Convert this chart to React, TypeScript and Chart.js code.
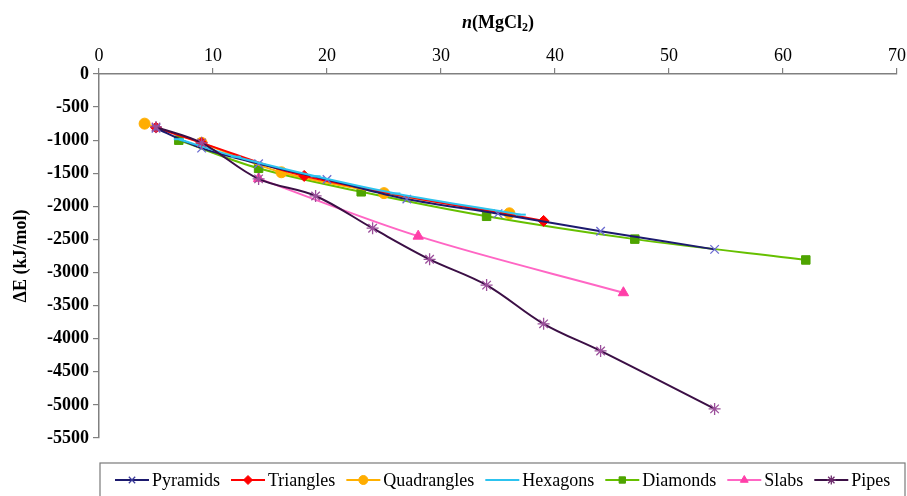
import React, { useEffect, useRef } from "react";
import { Chart, registerables } from "chart.js";
import { drawPoint } from "chart.js/helpers";

Chart.register(...registerables);

const xTicks = [0, 10, 20, 30, 40, 50, 60, 70];
const yTicks = [0, -500, -1000, -1500, -2000, -2500, -3000, -3500, -4000, -4500, -5000, -5500];

const seriesNames = ["Pyramids", "Triangles", "Quadrangles", "Hexagons", "Diamonds", "Slabs", "Pipes"];

const pyramidsX = [5, 9, 14, 20, 27, 35, 44, 54];
const pyramidsY = [-820, -1120, -1355, -1595, -1890, -2110, -2375, -2650];

const trianglesX = [5, 9, 18, 39];
const trianglesY = [-810, -1040, -1540, -2220];

const quadranglesX = [4, 9, 16, 25, 36];
const quadranglesY = [-750, -1040, -1485, -1800, -2105];

const hexagonsX = [7, 12, 19, 26, 37];
const hexagonsY = [-985, -1250, -1545, -1805, -2125];

const diamondsX = [7, 14, 23, 34, 47, 62];
const diamondsY = [-1000, -1425, -1780, -2150, -2495, -2810];

const slabsX = [14, 28, 46];
const slabsY = [-1580, -2450, -3305];

const pipesX = [5, 9, 14, 19, 24, 29, 34, 39, 44, 54];
const pipesY = [-800, -1040, -1585, -1843, -2330, -2800, -3190, -3775, -4185, -5060];

const SERIF = "'Liberation Serif', 'DejaVu Serif', serif";

type Style = {
  line: string;
  fill: string;
  border: string;
  pointStyle: any;
  radius: number;
  pbw: number;
  order: number;
};

const styles: Style[] = [
  { line: "#1c1a6e", fill: "rgba(0,0,0,0)", border: "#6b6bd0", pointStyle: "crossRot", radius: 6, pbw: 1.3, order: 2 },
  { line: "#ff0000", fill: "#ff0000", border: "#ff0000", pointStyle: "rectRot", radius: 5.5, pbw: 1, order: 3 },
  { line: "#ffb000", fill: "#ffad00", border: "#ffad00", pointStyle: "circle", radius: 5.5, pbw: 1, order: 4 },
  { line: "#2cc3ef", fill: "#2cc3ef", border: "#2cc3ef", pointStyle: "line", radius: 5, pbw: 2, order: 1 },
  { line: "#66c000", fill: "#4ea400", border: "#4ea400", pointStyle: "rect", radius: 6, pbw: 1, order: 5 },
  { line: "#ff66c4", fill: "#ff3fa8", border: "#ff3fa8", pointStyle: "triangle", radius: 6, pbw: 1, order: 6 },
  { line: "#3b0f45", fill: "rgba(0,0,0,0)", border: "#9b4f9b", pointStyle: "star", radius: 6, pbw: 1.3, order: 0 },
];

const xs = [pyramidsX, trianglesX, quadranglesX, hexagonsX, diamondsX, slabsX, pipesX];
const ys = [pyramidsY, trianglesY, quadranglesY, hexagonsY, diamondsY, slabsY, pipesY];

const titlePlugin = {
  id: "customTexts",
  afterDraw(chart: any) {
    const ctx = chart.ctx as CanvasRenderingContext2D;
    const area = chart.chartArea;
    ctx.save();
    // X axis title: n(MgCl2)
    const y = 23;
    const parts = [
      { t: "n", f: `italic bold 18px ${SERIF}`, dy: 0 },
      { t: "(MgCl", f: `bold 18px ${SERIF}`, dy: 0 },
      { t: "2", f: `bold 12px ${SERIF}`, dy: 5 },
      { t: ")", f: `bold 18px ${SERIF}`, dy: 0 },
    ];
    let total = 0;
    for (const p of parts) {
      ctx.font = p.f;
      total += ctx.measureText(p.t).width;
    }
    let x = (area.left + area.right) / 2 - total / 2;
    ctx.fillStyle = "#000";
    ctx.textBaseline = "middle";
    ctx.textAlign = "left";
    for (const p of parts) {
      ctx.font = p.f;
      ctx.fillText(p.t, x, y + p.dy);
      x += ctx.measureText(p.t).width;
    }

    // Legend
    const boxL = 100, boxT = 463, boxR = 905, boxB = 500;
    ctx.strokeStyle = "#7a7a7a";
    ctx.lineWidth = 1.2;
    ctx.strokeRect(boxL, boxT, boxR - boxL, boxB - boxT);
    ctx.font = `18px ${SERIF}`;
    const ly = 480;
    let lx = 115;
    for (let i = 0; i < seriesNames.length; i++) {
      const s = styles[i];
      const lineLen = 34;
      ctx.strokeStyle = s.line;
      ctx.lineWidth = 2;
      ctx.beginPath();
      ctx.moveTo(lx, ly);
      ctx.lineTo(lx + lineLen, ly);
      ctx.stroke();
      ctx.fillStyle = s.fill;
      ctx.strokeStyle = i === 0 ? "#3b3b9a" : i === 6 ? "#6b2a6b" : s.border;
      ctx.lineWidth = s.pbw;
      if (s.pointStyle !== "line") {
        drawPoint(ctx, { pointStyle: s.pointStyle, rotation: 0, radius: 4.5, borderWidth: s.pbw } as any, lx + lineLen / 2, ly);
      }
      ctx.fillStyle = "#000";
      ctx.textBaseline = "middle";
      ctx.textAlign = "left";
      const tx = lx + lineLen + 3;
      ctx.fillText(seriesNames[i], tx, ly + 1);
      lx = tx + ctx.measureText(seriesNames[i]).width + 11;
    }
    ctx.restore();
  },
};

export default function App() {
  const ref = useRef<HTMLCanvasElement | null>(null);
  useEffect(() => {
    document.body.style.margin = "0";
    const canvas = ref.current;
    if (!canvas) return;
    const datasets = seriesNames.map((name, i) => {
      const s = styles[i];
      return {
        label: name,
        data: xs[i].map((x, k) => ({ x, y: ys[i][k] })),
        borderColor: s.line,
        backgroundColor: s.fill,
        borderWidth: 2,
        tension: 0.35,
        order: s.order,
        pointStyle: s.pointStyle,
        pointRadius: s.radius,
        pointBackgroundColor: s.fill,
        pointBorderColor: s.border,
        pointBorderWidth: s.pbw,
        fill: false,
      };
    });
    const chart = new Chart(canvas, {
      type: "line",
      data: { datasets },
      options: {
        animation: false,
        responsive: false,
        devicePixelRatio: 1,
        layout: { padding: { left: 0, right: 10, top: 0, bottom: 58 } },
        plugins: {
          legend: { display: false },
          tooltip: { enabled: false },
        },
        scales: {
          x: {
            type: "linear",
            position: "top",
            min: 0,
            max: 70,
            afterBuildTicks: (scale: any) => {
              scale.ticks = xTicks.map((v) => ({ value: v }));
            },
            afterFit: (scale: any) => {
              scale.height = 74;
            },
            ticks: {
              color: "#000",
              font: { family: SERIF, size: 18 },
              padding: 1,
              maxRotation: 0,
              callback: (v: any) => `${v}`,
            },
            grid: {
              drawOnChartArea: false,
              drawTicks: true,
              tickLength: 6,
              color: "#808080",
              lineWidth: 1.2,
            },
            border: { color: "#808080", width: 1.5 },
          },
          y: {
            type: "linear",
            min: -5500,
            max: 0,
            afterBuildTicks: (scale: any) => {
              scale.ticks = yTicks.map((v) => ({ value: v }));
            },
            afterFit: (scale: any) => {
              scale.width = 99;
            },
            ticks: {
              color: "#000",
              font: { family: SERIF, size: 18, weight: "bold" },
              padding: 4,
              callback: (v: any) => `${v}`,
            },
            grid: {
              drawOnChartArea: false,
              drawTicks: true,
              tickLength: 6,
              color: "#808080",
              lineWidth: 1.2,
            },
            border: { color: "#808080", width: 1.5 },
            title: {
              display: true,
              text: "ΔE (kJ/mol)",
              color: "#000",
              font: { family: SERIF, size: 18, weight: "bold" },
              padding: { top: 11, bottom: 0 },
            },
          },
        },
      } as any,
      plugins: [titlePlugin],
    });
    return () => chart.destroy();
  }, []);
  return (
    <div style={{ position: "fixed", left: 0, top: 0, width: 907, height: 496, background: "#fff" }}>
      <canvas ref={ref} width={907} height={496} />
    </div>
  );
}
